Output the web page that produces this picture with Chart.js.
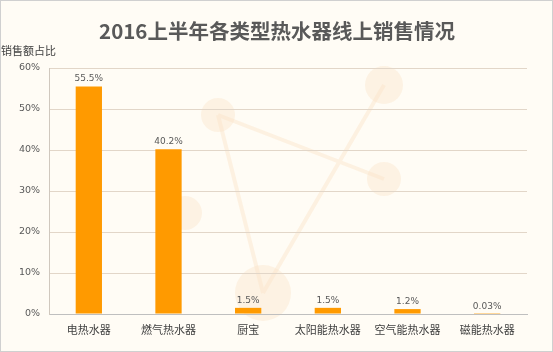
<!DOCTYPE html>
<html>
<head>
<meta charset="utf-8">
<script src="https://cdn.jsdelivr.net/npm/chart.js@4/dist/chart.umd.min.js"></script>
<style>
html,body{margin:0;padding:0;background:#fffcf5;}
#wrap{width:553px;height:352px;position:relative;}
</style>
</head>
<body>
<div id="wrap"><canvas id="c" width="553" height="352"></canvas></div>
<script>
const categories = ['电热水器','燃气热水器','厨宝','太阳能热水器','空气能热水器','磁能热水器'];
const shareValues = [55.5, 40.2, 1.5, 1.5, 1.2, 0.03];
const valueLabels = ['55.5%','40.2%','1.5%','1.5%','1.2%','0.03%'];
const yTicks = [0,10,20,30,40,50,60];
const chartTitle = '2016上半年各类型热水器线上销售情况';
const yAxisTitle = '销售额占比';

const FONT = '"Noto Sans CJK SC","Microsoft YaHei",sans-serif';

const bgPlugin = {
  id: 'bg',
  beforeDraw(chart) {
    const ctx = chart.ctx;
    ctx.save();
    ctx.fillStyle = '#fffcf5';
    ctx.fillRect(0, 0, chart.width, chart.height);
    // faint decorative watermark
    ctx.strokeStyle = 'rgba(250,225,195,0.4)';
    ctx.lineWidth = 4;
    ctx.beginPath();
    ctx.moveTo(218,115); ctx.lineTo(384,179);
    ctx.moveTo(218,115); ctx.lineTo(263,293);
    ctx.moveTo(263,293); ctx.lineTo(384,85);
    ctx.stroke();
    ctx.fillStyle = 'rgba(250,228,200,0.4)';
    [[218,115,17],[384,85,19],[384,179,17],[185,213,17],[263,293,28]].forEach(c=>{
      ctx.beginPath(); ctx.arc(c[0],c[1],c[2],0,Math.PI*2); ctx.fill();
    });
    ctx.restore();
  },
  afterDraw(chart) {
    const ctx = chart.ctx;
    ctx.save();
    ctx.fillStyle = '#595959';
    ctx.font = 'bold 20.5px ' + FONT;
    ctx.textAlign = 'center';
    ctx.textBaseline = 'middle';
    ctx.fillText(chartTitle, 277, 31);
    ctx.font = '11px ' + FONT;
    ctx.textAlign = 'left';
    ctx.fillStyle = '#404040';
    ctx.fillText(yAxisTitle, 1, 51);
    // data labels
    const meta = chart.getDatasetMeta(0);
    ctx.font = '9px "DejaVu Sans",sans-serif';
    ctx.fillStyle = '#595959';
    ctx.textAlign = 'center';
    ctx.textBaseline = 'bottom';
    meta.data.forEach((bar, i) => {
      ctx.fillText(valueLabels[i], bar.x, bar.y - 3);
    });
    ctx.strokeStyle = '#d0d0d0';
    ctx.lineWidth = 1;
    ctx.strokeRect(0.5, 0.5, chart.width - 1, chart.height - 1);
    ctx.restore();
  }
};

new Chart(document.getElementById('c'), {
  type: 'bar',
  data: {
    labels: categories,
    datasets: [{
      data: shareValues,
      backgroundColor: '#ff9a00',
      borderWidth: 0,
      barPercentage: 0.66,
      categoryPercentage: 0.5
    }]
  },
  options: {
    responsive: false,
    animation: false,
    layout: { padding: { top: 68, right: 26, left: 0, bottom: 0 } },
    plugins: { legend: { display: false }, tooltip: { enabled: false }, title: { display: false } },
    scales: {
      x: {
        grid: { display: false, drawTicks: false },
        border: { display: true, color: '#bfbfbf', width: 1 },
        ticks: { color: '#404040', font: { family: FONT, size: 11 }, padding: 9, maxRotation: 0, autoSkip: false },
        afterFit(scale) { scale.height = 38; }
      },
      y: {
        min: 0, max: 60,
        afterBuildTicks(scale) { scale.ticks = yTicks.map(v => ({ value: v })); },
        grid: { color: '#e2d6c8', drawTicks: false, lineWidth: 1 },
        border: { display: true, color: '#d0c8be', width: 1 },
        ticks: { color: '#595959', font: { family: '"DejaVu Sans",sans-serif', size: 9.5 }, padding: 9,
                 callback: v => v + '%' },
        afterFit(scale) { scale.width = 49; }
      }
    }
  },
  plugins: [bgPlugin]
});
</script>
</body>
</html>
